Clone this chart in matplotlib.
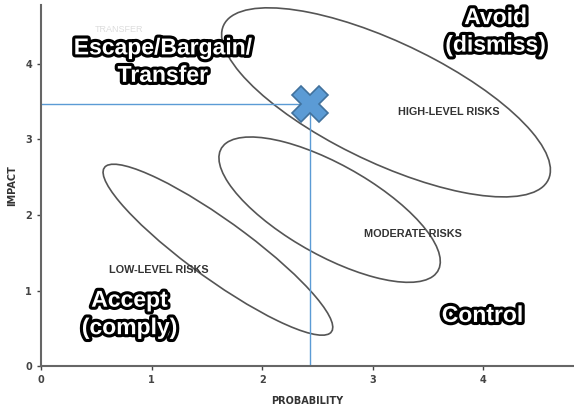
import numpy as np
import matplotlib.pyplot as plt
from matplotlib.patches import Ellipse
import matplotlib.patheffects as pe

# Risk zones (data units): center x, center y, width, height, angle
zone_names = ["HIGH-LEVEL RISKS", "MODERATE RISKS", "LOW-LEVEL RISKS"]
zone_cx = [3.12, 2.61, 1.60]
zone_cy = [3.49, 2.07, 1.54]
zone_w = [3.61, 2.57, 3.00]
zone_h = [1.44, 1.05, 0.66]
zone_angle = [-38.2, -43.4, -47.7]
label_x = [3.69, 3.36, 1.07]
label_y = [3.36, 1.75, 1.27]

# Strategy labels
strategy_text = ["Escape/Bargain/\nTransfer", "Avoid\n(dismiss)", "Accept\n(comply)", "Control"]
strategy_x = [1.10, 4.11, 0.80, 3.99]
strategy_y = [4.03, 4.43, 0.69, 0.67]

# Assessed risk
risk_prob = 2.43
risk_impact = 3.47

ticks = [0, 1, 2, 3, 4]

fig = plt.figure(figsize=(5.74, 4.09), dpi=100)
ax = fig.add_axes([0.0714, 0.105, 0.9286, 0.883])

for i in range(len(zone_names)):
    e = Ellipse((zone_cx[i], zone_cy[i]), zone_w[i], zone_h[i], angle=zone_angle[i],
                fill=False, edgecolor='#555555', linewidth=1.2)
    ax.add_patch(e)
    ax.text(label_x[i], label_y[i], zone_names[i], fontsize=7.8, fontweight='bold',
            color='#333333', ha='center', va='center', family='Liberation Sans')

# faded remnant of the original scan
ax.text(0.71, 4.46, "TRANSFER", fontsize=6.5, color='#dddddd', ha='center', va='center',
        family='Liberation Sans')

for s, x, y in zip(strategy_text, strategy_x, strategy_y):
    ax.text(x, y, s, fontsize=16.5, fontweight='bold', color='white', ha='center', va='center',
            family='Liberation Sans', linespacing=1.25,
            path_effects=[pe.withStroke(linewidth=4.5, foreground='black')])

ax.plot([0, risk_prob], [risk_impact, risk_impact], color='#5b9bd5', linewidth=1)
ax.plot([risk_prob, risk_prob], [0, risk_impact], color='#5b9bd5', linewidth=1)
ax.plot(risk_prob, risk_impact, marker='X', markersize=26, color='#5b9bd5',
        markeredgecolor='#41719c', markeredgewidth=1.2)

ax.set_xlim(0, 4.82)
ax.set_ylim(0, 4.78)
ax.set_xticks(ticks)
ax.set_yticks(ticks)
ax.tick_params(labelsize=7, colors='#444444', length=3, width=1)
for lbl in ax.get_xticklabels() + ax.get_yticklabels():
    lbl.set_fontweight('bold')
ax.spines['top'].set_visible(False)
ax.spines['right'].set_visible(False)
ax.spines['left'].set_color('#666666')
ax.spines['bottom'].set_color('#666666')
ax.spines['left'].set_linewidth(1.5)
ax.spines['bottom'].set_linewidth(1.5)
ax.set_xlabel("PROBABILITY", fontsize=7, fontweight='bold', color='#333333', labelpad=8)
ax.set_ylabel("IMPACT", fontsize=7, fontweight='bold', color='#333333', labelpad=6)

fig.savefig("out.png", dpi=100)
